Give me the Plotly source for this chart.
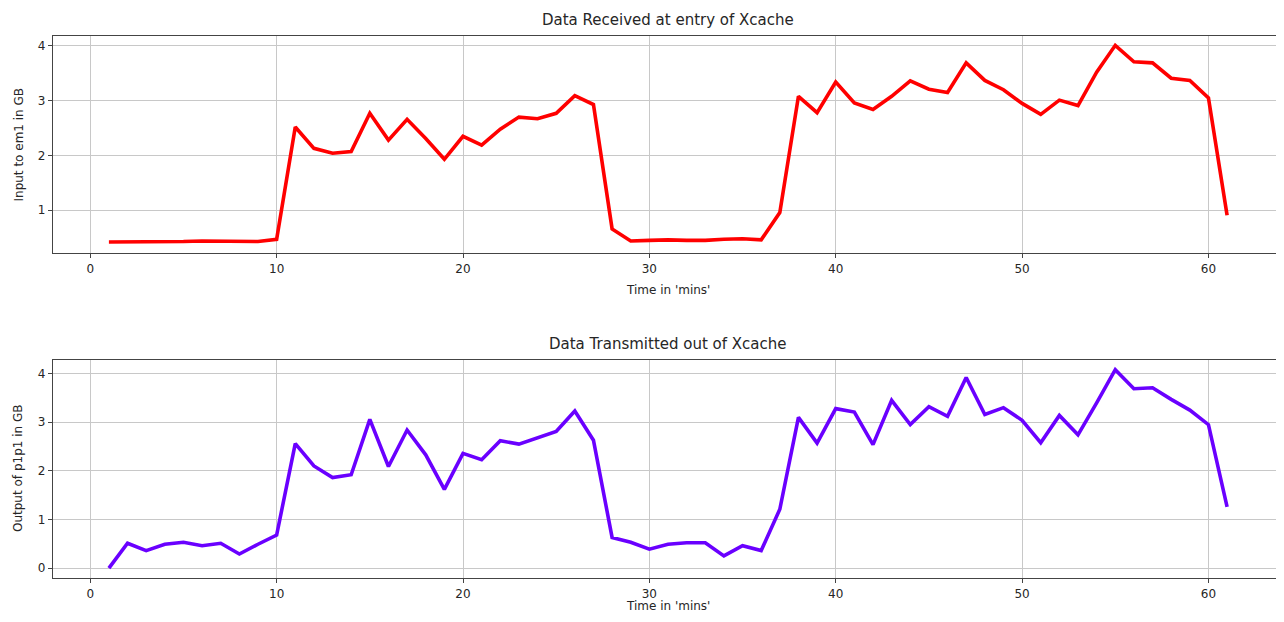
import plotly.graph_objects as go

minutes = list(range(1, 62))

input_em1 = [0.42, 0.42, 0.42, 0.43, 0.43, 0.44, 0.44, 0.43, 0.43, 0.47,
             2.52, 2.13, 2.04, 2.07, 2.77, 2.28, 2.66, 2.31, 1.93, 2.35,
             2.19, 2.48, 2.70, 2.67, 2.77, 3.09, 2.93, 0.66, 0.44, 0.45,
             0.46, 0.45, 0.45, 0.47, 0.48, 0.46, 0.96, 3.08, 2.78, 3.34,
             2.96, 2.84, 3.08, 3.36, 3.21, 3.15, 3.69, 3.37, 3.20, 2.95,
             2.75, 3.01, 2.91, 3.52, 4.01, 3.71, 3.69, 3.41, 3.37, 3.05,
             0.91]

output_p1p1 = [0.00, 0.51, 0.36, 0.49, 0.53, 0.46, 0.51, 0.29, 0.49, 0.68,
               2.56, 2.10, 1.86, 1.92, 3.06, 2.09, 2.84, 2.33, 1.62, 2.36,
               2.23, 2.62, 2.55, 2.68, 2.81, 3.23, 2.63, 0.63, 0.53, 0.39,
               0.49, 0.52, 0.52, 0.25, 0.46, 0.36, 1.21, 3.10, 2.57, 3.28,
               3.21, 2.54, 3.45, 2.95, 3.32, 3.12, 3.92, 3.16, 3.30, 3.04,
               2.58, 3.14, 2.74, 3.40, 4.08, 3.69, 3.71, 3.47, 3.25, 2.95,
               1.26]

x_ticks = [0, 10, 20, 30, 40, 50, 60]
top_y_ticks = [1, 2, 3, 4]
bottom_y_ticks = [0, 1, 2, 3, 4]

titles = ["Data Received at entry of Xcache", "Data Transmitted out of Xcache"]
x_label = "Time in 'mins'"
y_labels = ["Input to em1 in GB", "Output of p1p1 in GB"]

OFF = 8  # default page body margin
W, H = 1284 - OFF, 622 - 2 * OFF
font = "DejaVu Sans"
txt = "#262626"

fig = go.Figure()
fig.add_trace(go.Scatter(x=minutes, y=input_em1, mode="lines",
                         line=dict(color="#ff0000", width=3.6),
                         xaxis="x", yaxis="y", showlegend=False))
fig.add_trace(go.Scatter(x=minutes, y=output_p1p1, mode="lines",
                         line=dict(color="#6a00ff", width=3.6),
                         xaxis="x2", yaxis="y2", showlegend=False))

def py(p):
    return (H - (p - OFF)) / H

def px(p):
    return (p - OFF) / W

common_axis = dict(showline=True, mirror=True, linecolor="#444444", linewidth=1.2,
                   showgrid=True, gridcolor="#c8c8c8", gridwidth=1,
                   zeroline=False, ticks="outside", ticklen=4, tickcolor="#444444",
                   tickfont=dict(family=font, size=12, color=txt))

L, R = 53, 1283
top_dom = [py(253), py(36)]
bot_dom = [py(578), py(360)]

fig.update_layout(
    width=W, height=H,
    margin=dict(l=0, r=0, t=0, b=0),
    paper_bgcolor="white", plot_bgcolor="white",
    xaxis=dict(domain=[px(L), min(1.0, px(R))], range=[-2, 64], tickvals=x_ticks, anchor="y", **common_axis),
    yaxis=dict(domain=top_dom, range=[0.22, 4.18], tickvals=top_y_ticks, anchor="x", **common_axis),
    xaxis2=dict(domain=[px(L), min(1.0, px(R))], range=[-2, 64], tickvals=x_ticks, anchor="y2", **common_axis),
    yaxis2=dict(domain=bot_dom, range=[-0.204, 4.28], tickvals=bottom_y_ticks, anchor="x2", **common_axis),
)

cx = px((L + R) / 2)
def note(text, x, y, size, angle=0):
    return dict(text=text, x=x, y=y, xref="paper", yref="paper", showarrow=False,
                xanchor="center", yanchor="middle", textangle=angle,
                font=dict(family=font, size=size, color=txt))

ann = [
    note(titles[0], cx, py(20), 15),
    note(titles[1], cx, py(344), 15),
    note(x_label, cx, py(290), 12),
    note(x_label, cx, py(606), 12),
    note(y_labels[0], px(18), py((36 + 253) / 2), 12, -90),
    note(y_labels[1], px(18), py((360 + 578) / 2), 12, -90),
]
fig.update_layout(annotations=ann)

fig.write_html("out.html")
